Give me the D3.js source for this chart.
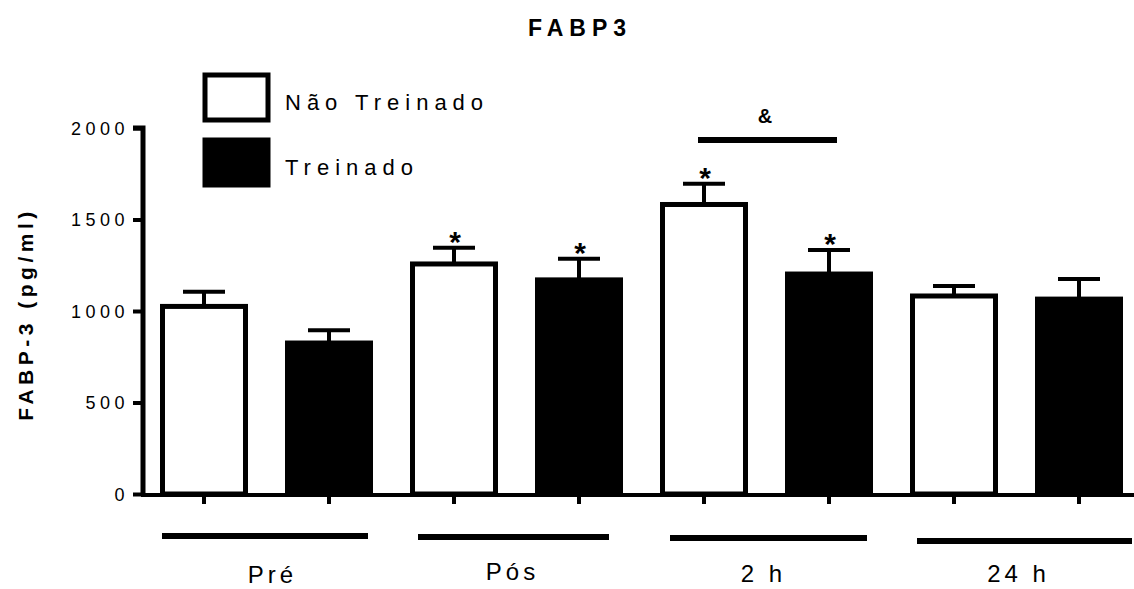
<!DOCTYPE html>
<meta charset="utf-8">
<style>
body { margin:0; background:#fff; }
text { font-family: Arial, "Liberation Sans", Helvetica, sans-serif; fill:#000; }
</style>
<body>
<script src="https://d3js.org/d3.v7.min.js"></script>
<script>

var groups = ["Pré", "Pós", "2 h", "24 h"];
var series = ["Não Treinado", "Treinado"];
var means  = [[1025, 825], [1257, 1170], [1582, 1202], [1082, 1065]];
var sems   = [[80, 70], [88, 115], [113, 131], [55, 110]];
var stars  = [[false, false], [true, true], [true, true], [false, false]];
var yTicks = [0, 500, 1000, 1500, 2000];

var width = 1134, height = 589;

var svg = d3.select("body").append("svg")
  .attr("width", width)
  .attr("height", height);

var x0 = 143, y0 = 494;

var y = d3.scaleLinear().domain([0, 2000]).range([y0, 128]);
var x = d3.scaleLinear().domain([0, 8]).range([141.5, 1141.5]);

// flatten bars
var bars = [];
groups.forEach(function(g, gi) {
  series.forEach(function(s, si) {
    bars.push({ g: g, s: si, i: gi * 2 + si, v: means[gi][si], e: sems[gi][si], star: stars[gi][si] });
  });
});

var bw = 83;

// error bars (behind bars)
var err = svg.append("g").attr("stroke", "#000").attr("stroke-width", 4);
bars.forEach(function(d) {
  var cx = x(d.i + 0.5);
  err.append("line").attr("x1", cx).attr("x2", cx).attr("y1", y(d.v)).attr("y2", y(d.v + d.e));
  err.append("line").attr("x1", cx - 21).attr("x2", cx + 21).attr("y1", y(d.v + d.e)).attr("y2", y(d.v + d.e));
  if (d.star) {
    svg.append("text").attr("x", cx + 1).attr("y", y(d.v + d.e) + 4)
      .attr("text-anchor", "middle").style("font-size", "30px").style("font-weight", "bold")
      .text("*");
  }
});

svg.selectAll("rect.bar").data(bars).enter().append("rect")
  .attr("class", "bar")
  .attr("x", function(d) { return x(d.i + 0.5) - bw / 2; })
  .attr("width", bw)
  .attr("y", function(d) { return y(d.v); })
  .attr("height", function(d) { return y0 - y(d.v); })
  .attr("fill", function(d) { return d.s ? "#000" : "#fff"; })
  .attr("stroke", "#000")
  .attr("stroke-width", 5);

// y axis
var yAxis = svg.append("g")
  .attr("transform", "translate(" + x0 + ",0)")
  .call(d3.axisLeft(y).tickValues(yTicks).tickFormat(d3.format("d")).tickSize(10).tickPadding(4));
yAxis.select(".domain").attr("stroke-width", 5).attr("d", "M-10," + y(2000) + "H0V" + y0);
yAxis.selectAll(".tick line").attr("stroke-width", 4);
yAxis.selectAll(".tick text").style("font-size", "18px").style("letter-spacing", "4.5px").attr("dy", "0.35em");

// x axis line and ticks
svg.append("line").attr("x1", x0 - 2).attr("x2", width).attr("y1", y0 + 1).attr("y2", y0 + 1)
  .attr("stroke", "#000").attr("stroke-width", 4);
svg.selectAll("line.xt").data(bars).enter().append("line")
  .attr("class", "xt")
  .attr("x1", function(d) { return x(d.i + 0.5); })
  .attr("x2", function(d) { return x(d.i + 0.5); })
  .attr("y1", y0).attr("y2", y0 + 10)
  .attr("stroke", "#000").attr("stroke-width", 4);

// group lines and labels (layout only)
var gl = [[162, 368, 536, 583, 6], [418, 609, 537, 580, -4], [670, 867, 538, 582, -3], [917, 1132, 541, 582, 2]];
groups.forEach(function(g, gi) {
  svg.append("line").attr("x1", gl[gi][0]).attr("x2", gl[gi][1]).attr("y1", gl[gi][2]).attr("y2", gl[gi][2])
    .attr("stroke", "#000").attr("stroke-width", 6);
  svg.append("text").attr("x", x(gi * 2 + 1) + gl[gi][4]).attr("y", gl[gi][3])
    .attr("text-anchor", "middle").style("font-size", "24px").style("letter-spacing", "4px")
    .text(g);
});

// significance bar
svg.append("line").attr("x1", 698).attr("x2", 837).attr("y1", 140).attr("y2", 140)
  .attr("stroke", "#000").attr("stroke-width", 6);
svg.append("text").attr("x", 765).attr("y", 123).attr("text-anchor", "middle")
  .style("font-size", "20px").style("font-weight", "bold").text("&");

// title
svg.append("text").attr("x", 580).attr("y", 36).attr("text-anchor", "middle")
  .style("font-size", "23px").style("font-weight", "bold").style("letter-spacing", "6px")
  .text("FABP3");

// y label
svg.append("text").attr("transform", "translate(33,314) rotate(-90)")
  .attr("text-anchor", "middle").style("font-size", "21px").style("font-weight", "bold")
  .style("letter-spacing", "4.5px").text("FABP-3 (pg/ml)");

// legend
var leg = svg.append("g");
series.forEach(function(s, si) {
  leg.append("rect").attr("x", 205).attr("y", 75 + si * 65).attr("width", 63).attr("height", 45)
    .attr("fill", si ? "#000" : "#fff").attr("stroke", "#000").attr("stroke-width", 5);
  leg.append("text").attr("x", 285).attr("y", 110 + si * 65)
    .style("font-size", "22px").style("letter-spacing", "6px").text(s);
});

</script>
